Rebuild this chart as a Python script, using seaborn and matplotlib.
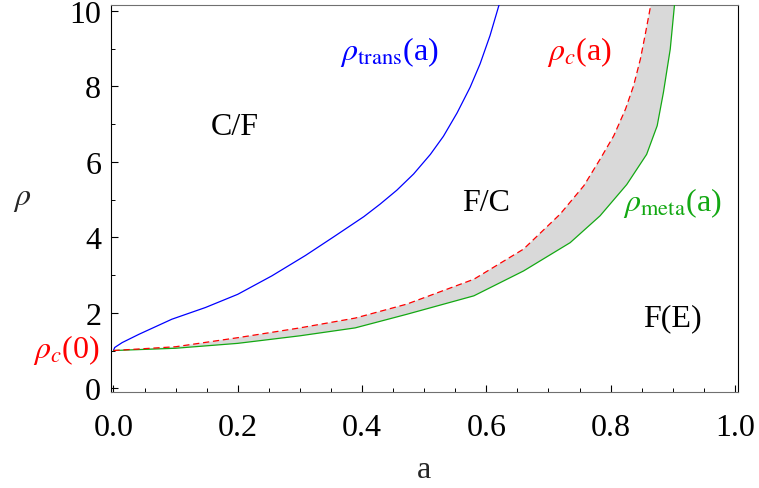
import numpy as np
import matplotlib
matplotlib.use("Agg")
import matplotlib.pyplot as plt
import seaborn as sns

# values
a_trans = [0.0, 0.002, 0.014, 0.041, 0.094, 0.148, 0.2, 0.255, 0.309, 0.355,
           0.403, 0.429, 0.456, 0.483, 0.51, 0.531, 0.553, 0.574, 0.59,
           0.606, 0.621, 0.628]
rho_trans = [1.0, 1.08, 1.21, 1.43, 1.83, 2.14, 2.49, 2.98, 3.52, 4.02,
             4.55, 4.88, 5.25, 5.68, 6.2, 6.68, 7.3, 7.98, 8.6,
             9.35, 10.19, 10.6]

a_crit = [0.0, 0.1, 0.2, 0.3, 0.389, 0.472, 0.58, 0.66, 0.719, 0.757,
          0.783, 0.805, 0.824, 0.837, 0.848, 0.856, 0.865, 0.869]
rho_crit = [1.0, 1.1, 1.34, 1.6, 1.86, 2.23, 2.89, 3.69, 4.62, 5.37,
            6.07, 6.69, 7.4, 8.02, 8.73, 9.4, 10.19, 10.6]

a_meta = [0.0, 0.1, 0.2, 0.3, 0.389, 0.472, 0.58, 0.66, 0.735, 0.783,
          0.826, 0.858, 0.875, 0.885, 0.896, 0.903, 0.906]
rho_meta = [1.0, 1.06, 1.19, 1.39, 1.6, 1.96, 2.45, 3.11, 3.86, 4.57,
            5.4, 6.2, 6.96, 7.84, 8.99, 10.19, 10.6]

x_ticks = [0.0, 0.2, 0.4, 0.6, 0.8, 1.0]
y_ticks = [0, 2, 4, 6, 8, 10]

region_labels = ["C/F", "F/C", "F(E)"]
region_pos = [(0.196, 6.95), (0.6, 4.93), (0.899, 1.88)]

sns.set_theme(style="white")
SERIF = ["Liberation Serif", "DejaVu Serif"]
plt.rcParams["font.family"] = SERIF
plt.rcParams["font.serif"] = SERIF
plt.rcParams["mathtext.fontset"] = "stix"

FS = 23
blue = "#0000ff"
red = "#ff0000"
green = "#13a813"

fig = plt.figure(figsize=(7.59, 4.89), dpi=100)
ax = fig.add_axes([0.1462, 0.1963, 0.8261, 0.7914])

# shaded band between rho_c and rho_meta
ax.fill(np.concatenate([a_crit, a_meta[::-1]]),
        np.concatenate([rho_crit, rho_meta[::-1]]),
        color="#d9d9d9", lw=0, zorder=1)

sns.lineplot(x=a_trans, y=rho_trans, ax=ax, color=blue, lw=0.9, zorder=3)
sns.lineplot(x=a_meta, y=rho_meta, ax=ax, color=green, lw=0.9, zorder=3)
sns.lineplot(x=a_crit, y=rho_crit, ax=ax, color=red, lw=0.9,
             linestyle=(0, (5, 3)), zorder=4)

ax.set_xlim(-0.004, 1.005)
ax.set_ylim(-0.1, 10.16)

ax.set_xticks(x_ticks)
ax.set_xticklabels([f"{v:.1f}" for v in x_ticks])
ax.set_xticks(np.arange(0, 1.001, 0.05), minor=True)
ax.set_yticks(y_ticks)
ax.set_yticklabels([str(v) for v in y_ticks])
ax.set_yticks([1, 3, 5, 7, 9], minor=True)

ax.tick_params(which="both", direction="in", top=False, right=False,
               bottom=True, left=True, colors="black")
ax.tick_params(which="major", length=5, width=0.8, labelsize=FS,
               labelfontfamily="Liberation Serif")
ax.tick_params(which="minor", length=3, width=0.7)
ax.tick_params(axis="x", which="major", pad=15)
ax.tick_params(axis="y", which="major", pad=7)
for s in ax.spines.values():
    s.set_color("black")
    s.set_linewidth(0.8)
ax.spines["top"].set_color("#707070")
ax.spines["bottom"].set_color("#707070")

ax.set_xlabel("a", fontsize=FS)
ax.xaxis.set_label_coords(0.5, -0.2)
ax.xaxis.label.set_va("center")
ax.set_ylabel(r"$\rho$", fontsize=FS, rotation=0)
ax.yaxis.set_label_coords(-0.142, 0.5)
ax.yaxis.label.set_va("center")
ax.yaxis.label.set_ha("center")

for txt, (x, y) in zip(region_labels, region_pos):
    ax.text(x, y, txt, fontsize=FS, ha="center", va="center", color="black")

ax.text(0.444, 8.94, r"$\rho_{\mathrm{trans}}$(a)", fontsize=FS, color=blue,
        ha="center", va="center")
ax.text(0.75, 8.94, r"$\rho_c$(a)", fontsize=FS, color=red,
        ha="center", va="center")
ax.text(0.9, 4.93, r"$\rho_{\mathrm{meta}}$(a)", fontsize=FS, color=green,
        ha="center", va="center")
ax.text(-0.076, 1.03, r"$\rho_c$(0)", fontsize=FS, color=red,
        ha="center", va="center", clip_on=False)

fig.savefig("out.png", dpi=100)
